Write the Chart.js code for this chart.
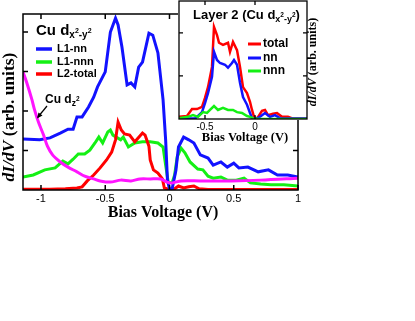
<!DOCTYPE html>
<html>
<head>
<meta charset="utf-8">
<script src="https://cdn.jsdelivr.net/npm/chart.js@4.4.0/dist/chart.umd.min.js"></script>
<style>
    html, body { margin: 0; padding: 0; background: #fff; }
    #wrap { position: relative; width: 415px; height: 321px; }
    #main { position: absolute; left: 0; top: 0; }
    #inset { position: absolute; left: 160px; top: 0; }
</style>
</head>
<body>
<div id="wrap">
    <canvas id="main" width="415" height="321"></canvas>
    <canvas id="inset" width="170" height="150"></canvas>
</div>
<script>
// ========== DATA: main panel (layer 1 + layer 2 total) ==========
const mainXTicks = [-1, -0.5, 0, 0.5, 1];
const mainXLabels = ['-1', '-0.5', '0', '0.5', '1'];
const mainYTicks = [1, 2, 3, 4];

// L1-nn (blue)
const nnV = [-1.14, -1.01, -0.93, -0.85, -0.79, -0.75, -0.72, -0.68, -0.63, -0.59, -0.56, -0.50, -0.46, -0.42, -0.40, -0.37, -0.33, -0.30, -0.27, -0.24, -0.21, -0.16, -0.13, -0.09, -0.05, -0.03, -0.016, 0, 0.02, 0.05, 0.07, 0.11, 0.15, 0.19, 0.24, 0.30, 0.34, 0.40, 0.45, 0.50, 0.54, 0.61, 0.69, 0.77, 0.84, 0.92, 1.0];
const nnY = [1.29, 1.27, 1.32, 1.44, 1.54, 1.54, 1.85, 1.85, 2.10, 2.35, 2.61, 2.99, 4.0, 4.35, 4.18, 3.62, 2.66, 2.71, 2.61, 3.11, 3.24, 3.97, 3.92, 3.47, 2.28, 1.27, 0.25, 0.02, 0.02, 0.5, 1.09, 1.34, 1.27, 1.19, 0.89, 0.81, 0.63, 0.71, 0.58, 0.68, 0.56, 0.58, 0.46, 0.51, 0.38, 0.38, 0.33];

// L1-nnn (green)
const nnnV = [-1.14, -1.06, -0.97, -0.89, -0.83, -0.79, -0.75, -0.71, -0.66, -0.62, -0.58, -0.55, -0.52, -0.48, -0.46, -0.44, -0.38, -0.36, -0.32, -0.27, -0.21, -0.15, -0.09, -0.05, -0.03, -0.01, 0.02, 0.04, 0.06, 0.09, 0.12, 0.16, 0.22, 0.26, 0.30, 0.34, 0.40, 0.45, 0.52, 0.58, 0.63, 0.71, 0.79, 0.89, 1.0];
const nnnY = [0.33, 0.38, 0.51, 0.56, 0.73, 0.66, 0.78, 0.91, 0.91, 1.01, 1.19, 1.34, 1.19, 1.47, 1.52, 1.39, 1.27, 1.34, 1.09, 1.19, 1.22, 1.22, 1.19, 1.09, 0.63, 0.20, 0.18, 0.38, 0.84, 1.06, 0.94, 0.71, 0.53, 0.51, 0.35, 0.30, 0.33, 0.25, 0.25, 0.30, 0.18, 0.15, 0.13, 0.13, 0.10];

// L2-total (red)
const l2V = [-1.14, -0.93, -0.81, -0.72, -0.68, -0.64, -0.59, -0.54, -0.49, -0.45, -0.42, -0.40, -0.375, -0.35, -0.31, -0.27, -0.21, -0.19, -0.16, -0.15, -0.125, -0.09, -0.055, -0.04, -0.01, 0.04, 0.07, 0.11, 0.15, 0.19, 0.23, 0.30, 0.55, 1.0];
const l2Y = [0.02, 0.02, 0.03, 0.05, 0.08, 0.23, 0.38, 0.56, 0.76, 0.96, 1.27, 1.72, 1.52, 1.42, 1.39, 1.22, 1.44, 1.39, 1.11, 0.76, 0.51, 0.43, 0.28, 0.05, 0.02, 0.03, 0.10, 0.05, 0.08, 0.10, 0.03, 0.01, 0.01, 0.01];

// Cu dz2 (magenta)
const dzV = [-1.14, -1.11, -1.07, -1.05, -1.02, -0.98, -0.95, -0.91, -0.85, -0.79, -0.72, -0.66, -0.59, -0.54, -0.46, -0.38, -0.30, -0.23, -0.15, -0.07, -0.02, 0.02, 0.09, 0.24, 0.48, 0.71, 1.0];
const dzY = [2.99, 2.71, 2.28, 2.03, 1.72, 1.39, 1.11, 0.89, 0.71, 0.58, 0.46, 0.35, 0.28, 0.23, 0.20, 0.25, 0.23, 0.28, 0.28, 0.28, 0.20, 0.18, 0.23, 0.23, 0.23, 0.25, 0.30];

// ========== DATA: inset (layer 2) ==========
const insetXTicks = [-0.5, 0];
const insetXLabels = ['-0.5', '0'];
const insetYTicks = [1, 2];

const totV = [-0.76, -0.68, -0.63, -0.58, -0.53, -0.50, -0.47, -0.43, -0.41, -0.38, -0.36, -0.32, -0.27, -0.25, -0.22, -0.18, -0.15, -0.12, -0.08, -0.05, -0.03, -0.01, 0.02, 0.07, 0.10, 0.13, 0.18, 0.22, 0.27, 0.33, 0.38, 0.52];
const totY = [0.05, 0.07, 0.23, 0.23, 0.28, 0.49, 0.74, 1.21, 2.14, 1.95, 1.77, 1.72, 1.77, 1.56, 1.79, 1.60, 1.21, 0.74, 0.60, 0.40, 0.21, 0.05, 0.01, 0.19, 0.21, 0.09, 0.12, 0.14, 0.05, 0.05, 0.01, 0.01];

const inNnV = [-0.76, -0.60, -0.58, -0.53, -0.50, -0.47, -0.43, -0.41, -0.38, -0.35, -0.30, -0.27, -0.23, -0.21, -0.18, -0.15, -0.12, -0.08, -0.05, -0.03, 0.02, 0.06, 0.10, 0.15, 0.20, 0.25, 0.35, 0.52];
const inNnY = [0.01, 0.01, 0.05, 0.16, 0.37, 0.60, 0.98, 1.56, 1.37, 1.30, 1.26, 1.19, 1.30, 1.37, 1.26, 0.84, 0.51, 0.33, 0.14, 0.02, 0.01, 0.07, 0.14, 0.05, 0.09, 0.02, 0.01, 0.01];

const inNnnV = [-0.76, -0.67, -0.62, -0.57, -0.52, -0.48, -0.45, -0.41, -0.37, -0.32, -0.27, -0.22, -0.18, -0.13, -0.08, -0.05, -0.02, 0.03, 0.52];
const inNnnY = [0.02, 0.05, 0.09, 0.05, 0.16, 0.14, 0.21, 0.30, 0.21, 0.26, 0.21, 0.21, 0.16, 0.14, 0.07, 0.05, 0.02, 0.0, 0.0];

const BLUE = '#1212ff';
const GREEN = '#14f014';
const RED = '#ff0000';
const MAGENTA = '#ff14ff';
const SANS = '"Liberation Sans", Arial, sans-serif';
const SERIF = '"Liberation Serif", "Times New Roman", serif';

function pts(xs, ys) {
    const n = Math.min(xs.length, ys.length);
    const out = [];
    for (let i = 0; i < n; i++) out.push({ x: xs[i], y: ys[i] });
    return out;
}

function line(data, color, width, order, tension) {
    return {
        data: data,
        borderColor: color,
        borderWidth: width,
        pointRadius: 0,
        fill: false,
        tension: tension || 0,
        order: order
    };
}

// draw text with sub/superscripts, parts = [text, size, dy]
function richText(ctx, x, y, parts, style) {
    parts.forEach(([txt, size, dy]) => {
        ctx.font = style + ' ' + size + 'px ' + SANS;
        ctx.fillText(txt, x, y + dy);
        x += ctx.measureText(txt).width;
    });
    return x;
}

// frame + inward ticks on all four sides
function drawFrame(chart, xt, yt, tick, lw) {
    const { ctx, chartArea: a, scales: { x, y } } = chart;
    ctx.save();
    ctx.strokeStyle = '#000';
    ctx.lineWidth = lw;
    ctx.strokeRect(a.left, a.top, a.right - a.left, a.bottom - a.top);
    ctx.beginPath();
    xt.forEach(v => {
        const px = x.getPixelForValue(v);
        ctx.moveTo(px, a.bottom); ctx.lineTo(px, a.bottom - tick);
        ctx.moveTo(px, a.top); ctx.lineTo(px, a.top + tick);
    });
    yt.forEach(v => {
        const py = y.getPixelForValue(v);
        ctx.moveTo(a.left, py); ctx.lineTo(a.left + tick, py);
        ctx.moveTo(a.right, py); ctx.lineTo(a.right - tick, py);
    });
    ctx.stroke();
    ctx.restore();
}

function drawYTitle(ctx, cx, cy, size) {
    ctx.save();
    ctx.translate(cx, cy);
    ctx.rotate(-Math.PI / 2);
    ctx.fillStyle = '#000';
    ctx.textBaseline = 'middle';
    const a = 'dI/dV ', b = '(arb. units)';
    ctx.font = 'italic bold ' + size + 'px ' + SERIF;
    const wa = ctx.measureText(a).width;
    ctx.font = 'bold ' + size + 'px ' + SERIF;
    const wb = ctx.measureText(b).width;
    let x = -(wa + wb) / 2;
    ctx.font = 'italic bold ' + size + 'px ' + SERIF;
    ctx.fillText(a, x, 0);
    ctx.font = 'bold ' + size + 'px ' + SERIF;
    ctx.fillText(b, x + wa, 0);
    ctx.restore();
}

// ========== MAIN CHART ==========
const mainDecor = {
    id: 'mainDecor',
    afterDatasetsDraw(chart) {
        drawFrame(chart, mainXTicks, mainYTicks, 5, 1.5);
    },
    afterDraw(chart) {
        const ctx = chart.ctx;
        ctx.save();
        ctx.fillStyle = '#000';

        // axis titles
        ctx.font = 'bold 16px ' + SERIF;
        ctx.textAlign = 'center';
        ctx.textBaseline = 'middle';
        ctx.fillText('Bias Voltage (V)', 163, 213);
        ctx.textAlign = 'left';
        drawYTitle(ctx, 9, 117, 17.5);

        // legend
        ctx.textBaseline = 'alphabetic';
        richText(ctx, 36, 35, [['Cu d', 15, 0], ['x', 10, 3], ['2', 7, -2], ['-y', 10, 3], ['2', 7, -2]], 'bold');
        const items = [['L1-nn', BLUE, 49], ['L1-nnn', GREEN, 62], ['L2-total', RED, 74]];
        items.forEach(([label, color, yy]) => {
            ctx.strokeStyle = color;
            ctx.lineWidth = 3.5;
            ctx.beginPath();
            ctx.moveTo(36, yy); ctx.lineTo(52, yy);
            ctx.stroke();
            ctx.font = 'bold 11px ' + SANS;
            ctx.textBaseline = 'middle';
            ctx.fillText(label, 57, yy);
        });

        // Cu dz2 annotation with arrow
        ctx.textBaseline = 'alphabetic';
        richText(ctx, 45, 103, [['Cu d', 12, 0], ['z', 8.5, 3], ['2', 6.5, -2]], 'bold');
        ctx.strokeStyle = '#000';
        ctx.lineWidth = 1.2;
        ctx.beginPath();
        ctx.moveTo(47, 106); ctx.lineTo(38, 117);
        ctx.stroke();
        ctx.beginPath();
        ctx.moveTo(37, 118.5); ctx.lineTo(38.5, 112.5); ctx.lineTo(42.5, 115.5);
        ctx.closePath();
        ctx.fillStyle = '#000';
        ctx.fill();
        ctx.restore();
    }
};

new Chart(document.getElementById('main').getContext('2d'), {
    type: 'line',
    data: {
        datasets: [
            line(pts(dzV, dzY), MAGENTA, 3, 0, 0.3),
            line(pts(nnV, nnY), BLUE, 3, 1),
            line(pts(l2V, l2Y), RED, 3, 2),
            line(pts(nnnV, nnnY), GREEN, 3, 3)
        ]
    },
    options: {
        responsive: false,
        animation: false,
        layout: { padding: { left: 23, top: 14, right: 117, bottom: 0 } },
        plugins: { legend: { display: false }, tooltip: { enabled: false } },
        scales: {
            x: {
                type: 'linear',
                min: -1.14,
                max: 1,
                grid: { display: false, drawTicks: false },
                border: { display: false },
                afterBuildTicks: s => { s.ticks = mainXTicks.map(v => ({ value: v })); },
                afterFit: s => { s.height = 131; },
                ticks: {
                    autoSkip: false,
                    maxRotation: 0,
                    padding: 2,
                    color: '#000',
                    font: { family: SANS, size: 11 },
                    callback: (v, i) => mainXLabels[i]
                }
            },
            y: { display: false, min: 0, max: 4.456 }
        }
    },
    plugins: [mainDecor]
});

// ========== INSET CHART ==========
const insetDecor = {
    id: 'insetDecor',
    beforeDraw(chart) {
        const { ctx, chartArea: a } = chart;
        ctx.save();
        ctx.fillStyle = '#fff';
        ctx.fillRect(a.left - 1, 0, chart.width - a.left - 3, a.bottom + 1);
        ctx.restore();
    },
    afterDatasetsDraw(chart) {
        drawFrame(chart, insetXTicks, insetYTicks, 4, 1.3);
    },
    afterDraw(chart) {
        const ctx = chart.ctx;
        ctx.save();
        ctx.fillStyle = '#000';
        ctx.textBaseline = 'alphabetic';
        const end = richText(ctx, 33, 19, [['Layer 2 (Cu d', 13, 0], ['x', 9, 3], ['2', 6.5, -2], ['-y', 9, 3], ['2', 6.5, -2]], 'bold');
        ctx.font = 'bold 13px ' + SANS;
        ctx.fillText(')', end, 19);

        const items = [['total', RED, 44], ['nn', BLUE, 58], ['nnn', GREEN, 71]];
        items.forEach(([label, color, yy]) => {
            ctx.strokeStyle = color;
            ctx.lineWidth = 3;
            ctx.beginPath();
            ctx.moveTo(88, yy); ctx.lineTo(101, yy);
            ctx.stroke();
            ctx.font = 'bold 12px ' + SANS;
            ctx.textBaseline = 'middle';
            ctx.fillText(label, 103, yy);
        });

        ctx.font = 'bold 12.5px ' + SERIF;
        ctx.textAlign = 'center';
        ctx.textBaseline = 'middle';
        ctx.fillText('Bias Voltage (V)', 85, 138);
        ctx.textAlign = 'left';
        drawYTitle(ctx, 153, 62, 12);
        ctx.restore();
    }
};

new Chart(document.getElementById('inset').getContext('2d'), {
    type: 'line',
    data: {
        datasets: [
            line(pts(inNnnV, inNnnY), GREEN, 2.5, 0),
            line(pts(inNnV, inNnY), BLUE, 2.5, 1),
            line(pts(totV, totY), RED, 2.5, 2)
        ]
    },
    options: {
        responsive: false,
        animation: false,
        layout: { padding: { left: 19, top: 1, right: 23, bottom: 0 } },
        plugins: { legend: { display: false }, tooltip: { enabled: false } },
        scales: {
            x: {
                type: 'linear',
                min: -0.76,
                max: 0.52,
                grid: { display: false, drawTicks: false },
                border: { display: false },
                afterBuildTicks: s => { s.ticks = insetXTicks.map(v => ({ value: v })); },
                afterFit: s => { s.height = 31; },
                ticks: {
                    autoSkip: false,
                    maxRotation: 0,
                    padding: 2,
                    color: '#000',
                    font: { family: SANS, size: 10 },
                    callback: (v, i) => insetXLabels[i]
                }
            },
            y: { display: false, min: 0, max: 2.74 }
        }
    },
    plugins: [insetDecor]
});
</script>
</body>
</html>
